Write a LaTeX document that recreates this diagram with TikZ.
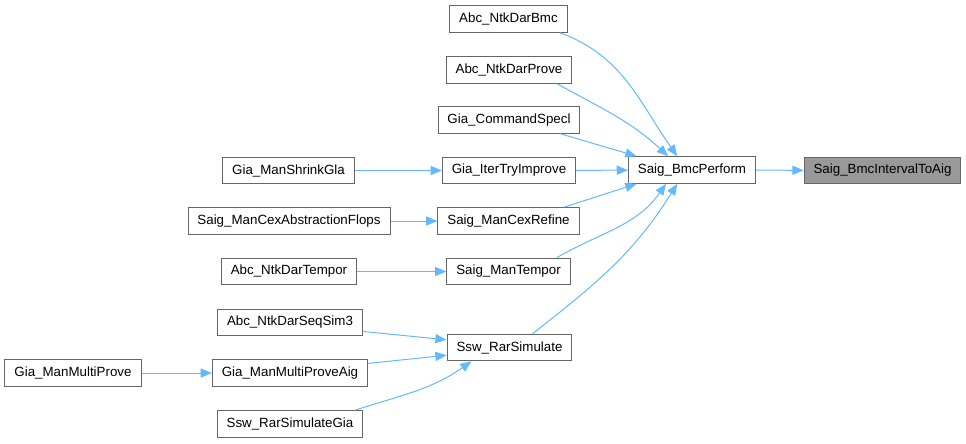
\documentclass[tikz,border=0pt]{standalone}
\usepackage{fontspec}
\setmainfont{Liberation Sans}
\usetikzlibrary{arrows.meta}
\definecolor{edgeblue}{HTML}{63B8FF}
\definecolor{boxgray}{HTML}{666666}
\definecolor{hlgray}{HTML}{999999}

\begin{document}
\begin{tikzpicture}[x=0.75pt, y=-0.75pt,
  every node/.style={font=\fontsize{10pt}{12pt}\selectfont},
  fn/.style={rectangle, draw=boxgray, fill=white, line width=0.75pt, inner xsep=7.1pt, inner ysep=0pt, minimum height=20pt},
  call/.style={draw=edgeblue, line width=0.75pt, -{Triangle[length=8.4pt,width=6.8pt]}}]
\useasboundingbox (0,0) rectangle (966,443);
% target and its caller
\node[fn, fill=hlgray] (interval) at (882.5,170.5) {Saig\_BmcIntervalToAig};
\node[fn] (perform) at (692,170) {Saig\_BmcPerform};
\draw[call] (perform) -- (interval);
% callers of Saig_BmcPerform
\node[fn] (dbmc) at (508.5,19) {Abc\_NtkDarBmc};
\node[fn] (dprove) at (509,70) {Abc\_NtkDarProve};
\node[fn] (specl) at (509,120) {Gia\_CommandSpecl};
\node[fn] (iter) at (509,170.5) {Gia\_IterTryImprove};
\node[fn] (cexref) at (508.5,221) {Saig\_ManCexRefine};
\node[fn] (tempor) at (508.5,271.5) {Saig\_ManTempor};
\node[fn] (rarsim) at (509.5,347.5) {Ssw\_RarSimulate};
\draw[call] (dbmc.-15) to[out=-20, in=125] (perform.137);
\draw[call] (dprove.-16) to[out=-29, in=137] (perform.150);
\draw[call] (specl.-15) -- (perform.166);
\draw[call] (iter) -- (perform);
\draw[call] (cexref.14) -- (perform.-166);
\draw[call] (tempor.16) to[out=30, in=-125] (perform.-152);
\draw[call] (rarsim.31) to[out=38, in=-122] (perform.-137);
% second level callers
\node[fn] (shrink) at (288.5,170.5) {Gia\_ManShrinkGla};
\node[fn] (abstr) at (289,221) {Saig\_ManCexAbstractionFlops};
\node[fn] (dtempor) at (289,271.5) {Abc\_NtkDarTempor};
\node[fn] (seqsim) at (290,322.5) {Abc\_NtkDarSeqSim3};
\node[fn] (mpaig) at (290,373) {Gia\_ManMultiProveAig};
\node[fn] (rsgia) at (290,424) {Ssw\_RarSimulateGia};
\draw[call] (shrink) -- (iter);
\draw[call] (abstr) -- (cexref);
\draw[call] (dtempor) -- (tempor);
\draw[call] (seqsim.-7) -- (rarsim.173);
\draw[call] (mpaig.7) -- (rarsim.-173);
\draw[call] (rsgia.12) to[out=18, in=-145] (rarsim.-160);
% third level
\node[fn] (mprove) at (73,373) {Gia\_ManMultiProve};
\draw[call] (mprove) -- (mpaig);
\end{tikzpicture}
\end{document}
